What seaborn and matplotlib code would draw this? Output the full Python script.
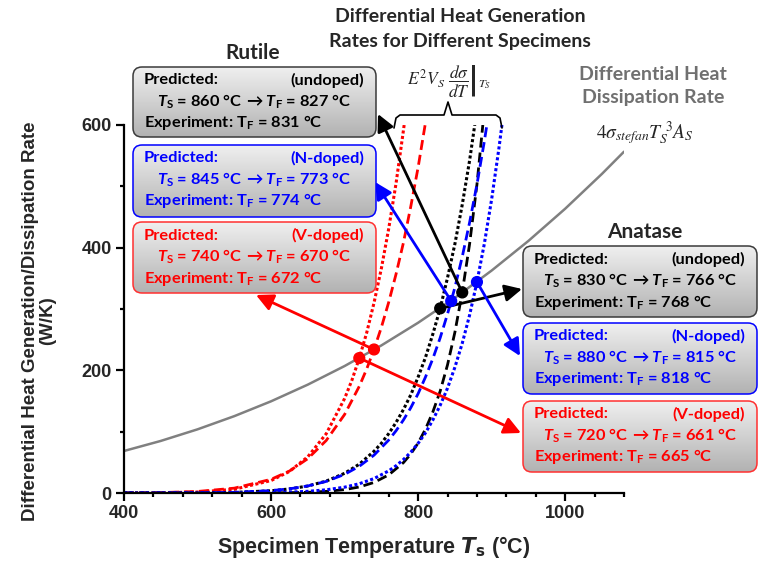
import numpy as np
import matplotlib
matplotlib.use('Agg')
import matplotlib.pyplot as plt
import seaborn as sns
from matplotlib.patches import FancyBboxPatch
from matplotlib.colors import LinearSegmentedColormap
from matplotlib.ticker import MultipleLocator

# differential heat dissipation rate (grey curve)
diss_T = [400, 450, 500, 550, 600, 650, 700, 750, 800, 850, 900, 950, 1000, 1050, 1080]
diss_W = [68.5, 84.9, 103.8, 125.3, 149.5, 176.7, 207.0, 240.6, 277.6, 318.2, 362.7, 411.0, 463.5, 520.3, 556.5]

# differential heat generation rates
# anatase = dotted, rutile = dashed
ana_V_T = [400, 450, 500, 550, 600, 625, 650, 675, 700, 710, 720, 730, 740, 750, 760, 770, 780, 781]
ana_V_W = [0.06, 0.34, 1.6, 6.1, 20.3, 35.1, 59.1, 96.6, 154, 184, 220, 261, 310, 366, 431, 505, 591, 600]

rut_V_T = [400, 450, 500, 550, 600, 625, 650, 675, 700, 720, 730, 740, 750, 760, 770, 780, 790, 800, 809.5]
rut_V_W = [0.14, 0.65, 2.5, 7.9, 22.3, 35.8, 56.0, 85.6, 128, 174, 202, 234, 270, 311, 357, 408, 467, 531, 600]

ana_U_T = [400, 450, 500, 550, 600, 625, 650, 675, 700, 720, 740, 750, 760, 770, 780, 790, 800, 810, 820, 830, 840, 850, 860, 870, 877]
ana_U_W = [0.01, 0.05, 0.23, 1.0, 3.6, 6.6, 11.4, 19.4, 32.1, 47.0, 68.0, 81, 96.8, 115, 136, 160, 189, 221, 259, 301, 351, 406, 470, 542, 600]

rut_N_T = [400, 450, 500, 550, 600, 625, 650, 675, 700, 720, 740, 760, 770, 780, 790, 800, 810, 820, 830, 840, 850, 860, 870, 880, 890, 893.5]
rut_N_W = [0.01, 0.06, 0.29, 1.1, 3.9, 6.8, 11.5, 18.9, 30.4, 43.6, 61.7, 86.3, 101.5, 119, 139, 162, 189, 219, 253, 292, 335, 385, 441, 503, 573, 600]

rut_U_T = [400, 500, 600, 625, 650, 675, 700, 720, 740, 760, 780, 790, 800, 810, 820, 830, 840, 850, 860, 870, 880, 888]
rut_U_W = [0.0, 0.0, 0.2, 0.5, 1.1, 2.6, 5.5, 9.8, 17.2, 29.5, 49.5, 63.6, 81.5, 104, 132, 166, 209, 262, 327, 406, 503, 600]

ana_N_T = [400, 500, 550, 600, 625, 650, 675, 700, 720, 740, 760, 770, 780, 790, 800, 810, 820, 830, 840, 850, 860, 870, 880, 890, 900, 910, 914]
ana_N_W = [0.0, 0.03, 0.14, 0.7, 1.4, 2.7, 5.2, 9.5, 15.1, 23.5, 36.1, 44.4, 54.5, 66.5, 81, 98, 119, 143, 171, 205, 244, 290, 344, 406, 479, 563, 600]

# predicted / measured temperatures for the six specimens
specimens = ['undoped', 'N-doped', 'V-doped']
rut_Ts = [860, 845, 740]
rut_Tf = [827, 773, 670]
rut_Te = [831, 774, 672]
rut_dot_W = [327, 313, 234]
ana_Ts = [830, 880, 720]
ana_Tf = [766, 815, 661]
ana_Te = [768, 818, 665]
ana_dot_W = [301, 344, 220]

txt_colors = ['black', '#0000ff', '#ff0000']
edge_colors = ['#3a3a3a', '#0000ff', '#ff3030']

sns.set_theme(style='ticks')
plt.rcParams['font.family'] = ['Liberation Sans', 'DejaVu Sans']
plt.rcParams['mathtext.fontset'] = 'custom'
plt.rcParams['mathtext.rm'] = 'Lato:bold'
plt.rcParams['mathtext.it'] = 'Lato:italic:bold'
plt.rcParams['mathtext.bf'] = 'Lato:bold'
plt.rcParams['mathtext.sf'] = 'Lato:bold'

W, H = 760, 563
fig = plt.figure(figsize=(7.6, 5.63), dpi=100)
ax = fig.add_axes([124 / W, 70 / H, 500 / W, 368 / H], zorder=2)
ov = fig.add_axes([0, 0, 1, 1], zorder=3)

# curves
dot_ls = (0, (1, 0.8))
dash_ls = (0, (3.6, 1.8))
sns.lineplot(x=diss_T, y=diss_W, ax=ax, color='#808080', lw=1.8)
curves = [
    (ana_V_T, ana_V_W, '#ff0000', dot_ls, 2.2),
    (rut_V_T, rut_V_W, '#ff0000', dash_ls, 2.0),
    (ana_U_T, ana_U_W, 'black', dot_ls, 2.2),
    (rut_U_T, rut_U_W, 'black', dash_ls, 2.0),
    (rut_N_T, rut_N_W, '#0000ff', dash_ls, 2.0),
    (ana_N_T, ana_N_W, '#0000ff', dot_ls, 2.2),
]
for T, Wv, c, ls, lw in curves:
    sns.lineplot(x=T, y=Wv, ax=ax, color=c, linestyle=ls, lw=lw, estimator=None, sort=False)

# intersection points
ax.scatter(rut_Ts + ana_Ts, rut_dot_W + ana_dot_W, c=txt_colors + txt_colors, s=60, zorder=6, clip_on=False)

ax.set_xlim(400, 1080)
ax.set_ylim(0, 600)
ax.set_xticks([400, 600, 800, 1000])
ax.set_yticks([0, 200, 400, 600])
ax.xaxis.set_minor_locator(MultipleLocator(40))
ax.yaxis.set_minor_locator(MultipleLocator(100))
ax.tick_params(which='major', length=6, width=1.6, direction='out', labelsize=13, pad=3, color='black')
ax.tick_params(which='minor', length=3, width=1.6, direction='out', color='black')
for lab in ax.get_xticklabels() + ax.get_yticklabels():
    lab.set_fontweight('bold')
ax.set_xlabel('')
ax.set_ylabel('')
sns.despine(ax=ax)
for s in ['left', 'bottom']:
    ax.spines[s].set_linewidth(1.6)
    ax.spines[s].set_color('black')

fig.text(39 / W, 1 - 321 / H, 'Differential Heat Generation/Dissipation Rate\n(W/K)',
         rotation=90, ha='center', va='center', fontsize=13.5, fontweight='bold',
         linespacing=0.95, multialignment='center')
fig.text(374 / W, 1 - 547 / H, r'Specimen Temperature $\mathbfit{T}_{\mathbf{s}}$ (°C)',
         math_fontfamily='dejavusans', ha='center', va='center', fontsize=15.5, fontweight='bold')

# overlay in pixel coordinates for boxes and annotations
ov.axis('off')
grad = np.linspace(0, 1, 64).reshape(-1, 1)
box_cmap = LinearSegmentedColormap.from_list('boxgrey', ['#efefef', '#b2b2b2'])
bf = dict(family=['Lato', 'DejaVu Sans'], fontweight='bold', fontsize=11.8)

rut_boxes = [(133, 67, 376, 137), (133, 145, 376, 217), (133, 222, 376, 293)]
ana_boxes = [(523, 246, 757, 317), (523, 323, 757, 394), (523, 401, 757, 472)]


def draw_box(box, i, ts, tf, te):
    x0, y0, x1, y1 = box
    patch = FancyBboxPatch((x0, y0), x1 - x0, y1 - y0, boxstyle='round,pad=0,rounding_size=9',
                           fc='none', ec=edge_colors[i], lw=1.1, zorder=2)
    ov.add_patch(patch)
    im = ov.imshow(grad, extent=[x0, x1, y1, y0], cmap=box_cmap, aspect='auto', zorder=1)
    im.set_clip_path(patch)
    c = txt_colors[i]
    ov.text(x0 + 11, y0 + 13.5, 'Predicted:', color=c, ha='left', va='center', **bf)
    ov.text(x1 - 12, y0 + 13.5, '(' + specimens[i] + ')', color=c, ha='right', va='center', **bf)
    ov.text((x0 + x1) / 2, y0 + 35, rf'$T_\mathrm{{S}}$ = {ts} °C $\rightarrow$$T_\mathrm{{F}}$ = {tf} °C',
            color=c, ha='center', va='center', **bf)
    ov.text(x0 + 11, y0 + 56, rf'Experiment: T$_\mathrm{{F}}$ = {te} °C', color=c, ha='left', va='center', **bf)


for i in range(3):
    draw_box(rut_boxes[i], i, rut_Ts[i], rut_Tf[i], rut_Te[i])
    draw_box(ana_boxes[i], i, ana_Ts[i], ana_Tf[i], ana_Te[i])

# arrows from intersection points to boxes (tips in pixels, y down)
rut_tips = [(378, 114), (375, 182), (256, 295)]
ana_tips = [(522, 289), (520, 356), (521, 433)]
for i in range(3):
    for ts, wv, tip in [(rut_Ts[i], rut_dot_W[i], rut_tips[i]), (ana_Ts[i], ana_dot_W[i], ana_tips[i])]:
        ax.annotate('', xy=(tip[0], H - tip[1]), xycoords='figure pixels', xytext=(ts, wv), textcoords='data',
                    arrowprops=dict(arrowstyle='-|>,head_length=0.6,head_width=0.3', color=txt_colors[i],
                                    lw=2, shrinkA=0, shrinkB=0, mutation_scale=17),
                    annotation_clip=False, zorder=5)

ttl = dict(family=['Lato', 'DejaVu Sans'], fontweight='bold', ha='center', va='center')
ov.text(460, 17, 'Differential Heat Generation', fontsize=14, **ttl)
ov.text(460, 42, 'Rates for Different Specimens', fontsize=14, **ttl)
ov.text(253, 53, 'Rutile', fontsize=15, **ttl)
ov.text(645, 232, 'Anatase', fontsize=15, **ttl)
ov.text(653, 74, 'Differential Heat', fontsize=14, color='#707070', **ttl)
ov.text(653, 98, 'Dissipation Rate', fontsize=14, color='#707070', **ttl)
ov.text(449, 81, r'$E^{2}V_{S}\ \left.\dfrac{d\sigma}{dT}\right|_{T_{S}}$', math_fontfamily='stix',
        fontsize=12.5, ha='center', va='center')
ov.text(645, 133, r'$4\sigma_{stefan}T_{S}^{\ 3}A_{S}$', math_fontfamily='stix',
        fontsize=14, ha='center', va='center')

# brace over the generation curves
ov.plot([394, 396, 400, 444, 448, 452, 496, 500, 502], [128, 118, 115, 115, 102, 115, 115, 118, 128],
        color='black', lw=1.2)

ov.set_xlim(0, W)
ov.set_ylim(H, 0)

fig.savefig('out.png', dpi=100)
